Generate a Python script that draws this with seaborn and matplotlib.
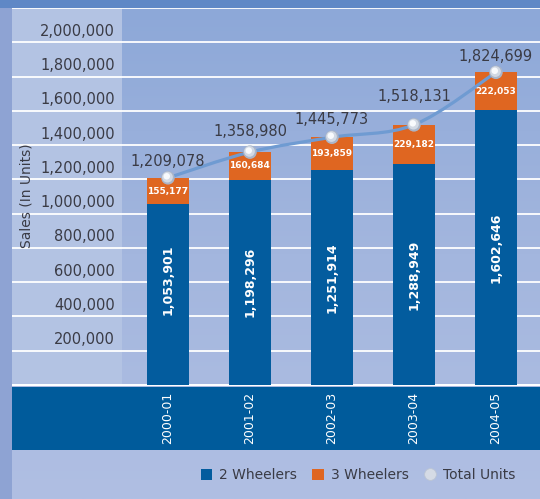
import numpy as np
import pandas as pd
import matplotlib
matplotlib.use("Agg")
import matplotlib.pyplot as plt
import seaborn as sns
from matplotlib.path import Path
from matplotlib.patches import PathPatch, Patch, Rectangle
from matplotlib.lines import Line2D
from matplotlib.colors import LinearSegmentedColormap
import matplotlib.transforms as mtransforms

# ---------------- data ----------------
years = ["2000-01", "2001-02", "2002-03", "2003-04", "2004-05"]
two_wheelers = [1053901, 1198296, 1251914, 1288949, 1602646]
three_wheelers = [155177, 160684, 193859, 229182, 222053]
total_units = [1209078, 1358980, 1445773, 1518131, 1824699]
y_tick_values = [200000, 400000, 600000, 800000, 1000000,
                 1200000, 1400000, 1600000, 1800000, 2000000]
legend_labels = ["2 Wheelers", "3 Wheelers", "Total Units"]

# ---------------- style ----------------
BLUE = "#035c9e"
ORANGE = "#df6621"
LINE = "#6f9bd2"
TXT = "#3a3b45"

sns.set_theme(style="white")
plt.rcParams["font.family"] = ["DejaVu Sans"]

W, H = 540, 499
fig = plt.figure(figsize=(W / 100, H / 100), dpi=100)
fig.patch.set_facecolor("#8fa6d6")

# background decoration (pixel coordinates)
bg = fig.add_axes([0, 0, 1, 1], zorder=0)
grad = np.linspace(0, 1, 256)[:, None]
cmap = LinearSegmentedColormap.from_list("bgg", ["#8da8d8", "#a3b6de", "#b0bfe3"])
bg.imshow(grad, extent=[12, W, H, 8], cmap=cmap, aspect="auto", origin="upper")
bg.add_patch(Rectangle((0, 0), W, 8, color="#5f88c6", lw=0))
bg.add_patch(Rectangle((0, 8), 12, H - 8, color="#8ea3d3", lw=0))
bg.add_patch(Rectangle((12, 8), 110, 377, color="#b3c3e3", lw=0))
bg.add_patch(Rectangle((12, 387), W - 12, 63, color="#005b9b", lw=0))
bg.add_patch(Rectangle((12, 383.6), W - 12, 2.4, color="white", lw=0))
bg.set_xlim(0, W)
bg.set_ylim(H, 0)
bg.axis("off")

# main axes
ax = fig.add_axes([12 / W, (H - 385) / H, 528 / W, 377 / H], zorder=2)
ax.patch.set_alpha(0)

df = pd.DataFrame({"year": years, "two": two_wheelers,
                   "three": three_wheelers, "total": total_units})

sns.barplot(data=df, x="year", y="total", color=ORANGE, width=0.512,
            saturation=1, linewidth=0, ax=ax, zorder=3)
sns.barplot(data=df, x="year", y="two", color=BLUE, width=0.512,
            saturation=1, linewidth=0, ax=ax, zorder=3)

# smooth total line (Bezier through the data points)
pts = np.array([[i, v] for i, v in enumerate(total_units)], dtype=float)
n = len(pts)
verts = [tuple(pts[0])]
codes = [Path.MOVETO]
for i in range(n - 1):
    p0 = pts[max(i - 1, 0)]
    p1 = pts[i]
    p2 = pts[i + 1]
    p3 = pts[min(i + 2, n - 1)]
    c1 = p1 + (p2 - p0) / 6.0
    c2 = p2 - (p3 - p1) / 6.0
    verts += [tuple(c1), tuple(c2), tuple(p2)]
    codes += [Path.CURVE4] * 3
ax.add_patch(PathPatch(Path(verts, codes), fill=False, edgecolor=LINE,
                       lw=2.3, zorder=4, capstyle="round"))

# sphere-like markers (layered shading)
hl = ax.transData + mtransforms.ScaledTranslation(-1.2 / 100, 1.5 / 100, fig.dpi_scale_trans)
sns.scatterplot(x=years, y=total_units, s=95, color="#aab5c8",
                edgecolor="none", linewidth=0, zorder=5, ax=ax, legend=False)
sns.scatterplot(x=years, y=total_units, s=60, color="#d2d9e4",
                edgecolor="none", linewidth=0, zorder=5, ax=ax, legend=False,
                transform=ax.transData + mtransforms.ScaledTranslation(-0.5 / 100, 0.7 / 100, fig.dpi_scale_trans))
sns.scatterplot(x=years, y=total_units, s=22, color="#f8fafd",
                edgecolor="none", linewidth=0, zorder=6, ax=ax, legend=False,
                transform=hl)

# axes settings
ax.set_ylim(0, 2200000)
ax.set_xlim(-1.902, 4.537)
ax.set_yticks(np.arange(0, 2200001, 200000))
ax.yaxis.grid(True, color="white", lw=1.3)
ax.xaxis.grid(False)
ax.set_axisbelow(True)
for s in ax.spines.values():
    s.set_visible(False)
ax.tick_params(axis="y", left=False, labelleft=False)
ax.tick_params(axis="x", length=0, pad=5, labelcolor="white", labelsize=9,
               labelrotation=90)
ax.set_xlabel("")
ax.set_ylabel("")

# y tick labels (placed just above their gridlines)
trans = mtransforms.blended_transform_factory(ax.transAxes, ax.transData)
trans = mtransforms.offset_copy(trans, fig=fig, x=0, y=11, units="dots")
for v in y_tick_values:
    ax.text(103 / 528, v, f"{v:,}", transform=trans, ha="right", va="center",
            fontsize=10.5, color=TXT)

# value labels
two_label_shift_px = [15, 0, 0, 0, 0]
for i, (a, b, sh) in enumerate(zip(two_wheelers, three_wheelers, two_label_shift_px)):
    ax.annotate(f"{a:,}", (i, a / 2), xytext=(0, sh * 0.72), textcoords="offset points",
                rotation=90, ha="center", va="center",
                color="white", fontsize=9, fontweight="bold", zorder=7)
    ax.text(i, a + b / 2, f"{b:,}", ha="center", va="center",
            color="white", fontsize=6.5, fontweight="bold", zorder=7)

total_offsets_px = [16, 21, 18, 28, 16]
for i, (t, o) in enumerate(zip(total_units, total_offsets_px)):
    ax.annotate(f"{t:,}", (i, t), xytext=(0, o * 0.72), textcoords="offset points",
                ha="center", va="center", fontsize=10.5, color=TXT, zorder=7)

fig.text(27 / W, 1 - 196 / H, "Sales (In Units)", rotation=90, ha="center",
         va="center", fontsize=10, color=TXT)

handles = [Patch(facecolor=BLUE, edgecolor="none"),
           Patch(facecolor=ORANGE, edgecolor="none"),
           Line2D([], [], marker="o", ls="", markersize=8.5,
                  markerfacecolor="#d5dbe5", markeredgecolor="#bcc5d4",
                  markeredgewidth=0.6)]
fig.legend(handles, legend_labels, loc="center right",
           bbox_to_anchor=(528 / W, 24 / H), ncol=3, frameon=False,
           fontsize=10, handlelength=0.85, handleheight=0.85,
           handletextpad=0.5, columnspacing=1.1, labelcolor=TXT)

fig.savefig("out.png", dpi=100, facecolor=fig.get_facecolor())
